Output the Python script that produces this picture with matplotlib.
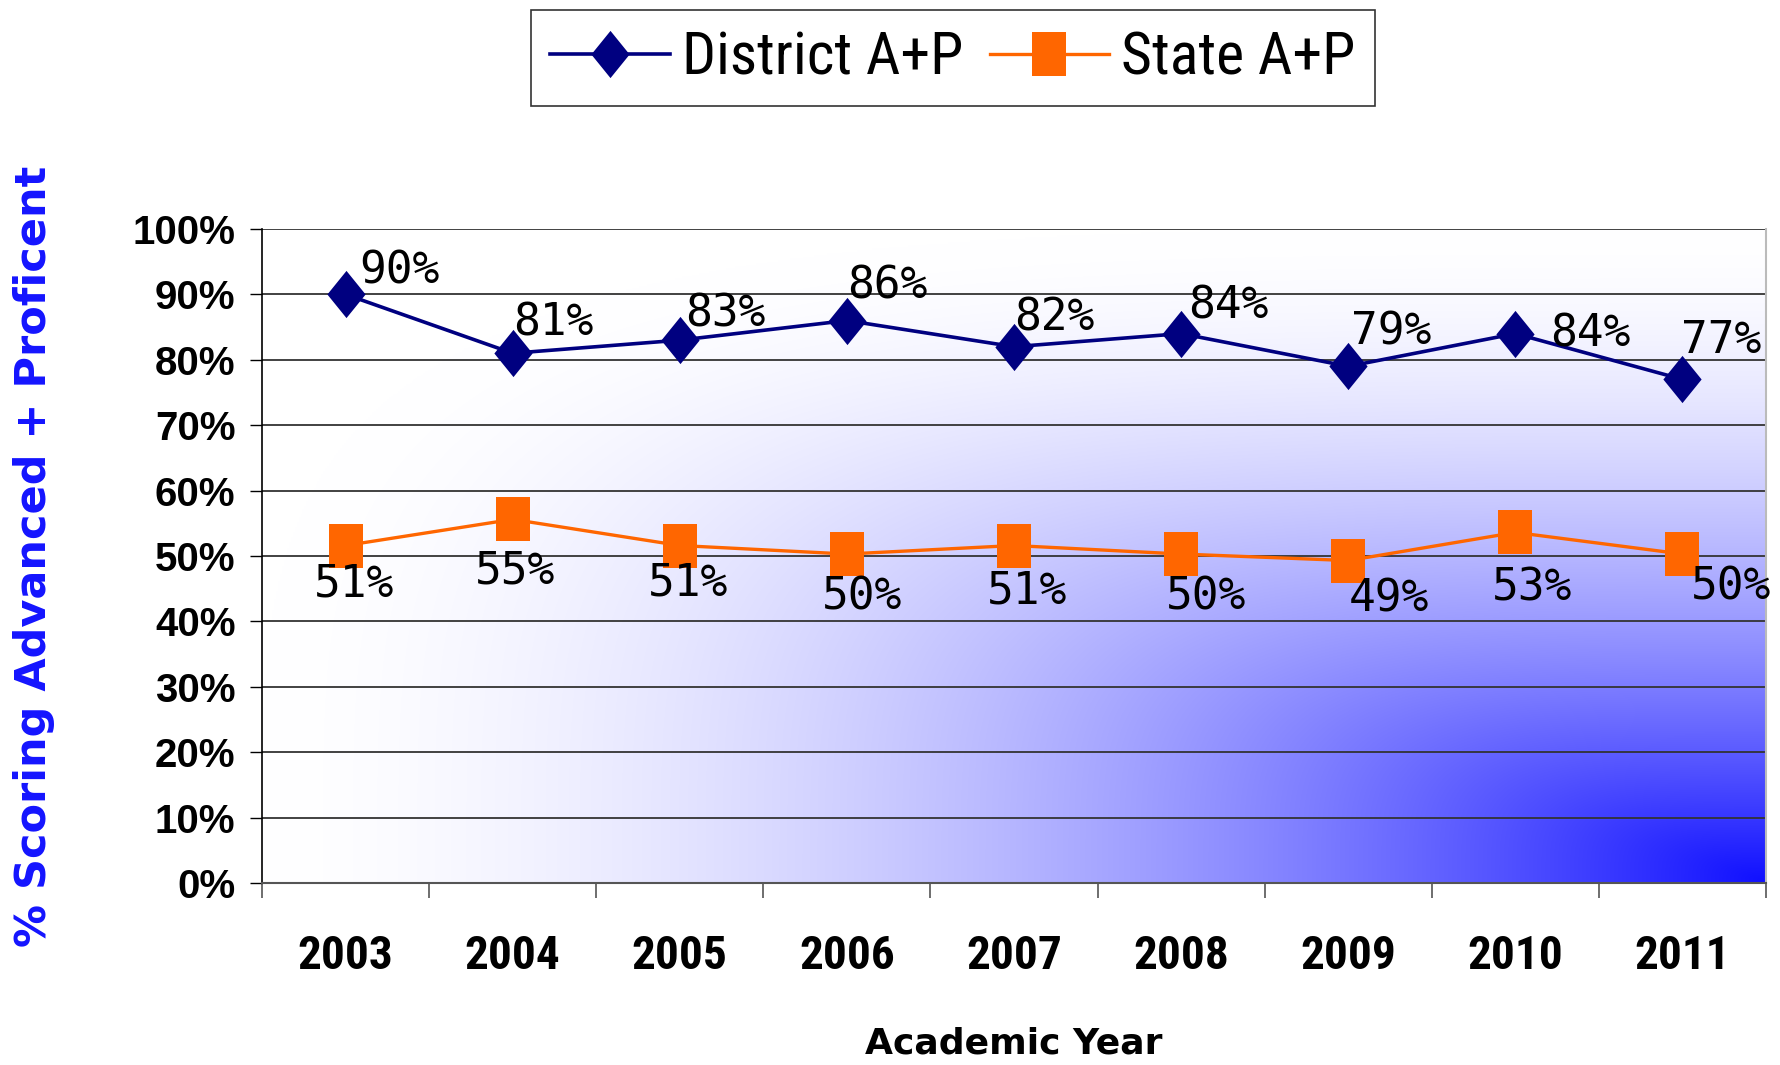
import numpy as np
import matplotlib
matplotlib.use("Agg")
import matplotlib.pyplot as plt
from matplotlib.lines import Line2D

years = ["2003", "2004", "2005", "2006", "2007", "2008", "2009", "2010", "2011"]
district = [90, 81, 83, 86, 82, 84, 79, 84, 77]
state = [51.6, 55.6, 51.6, 50.3, 51.6, 50.3, 49.3, 53.6, 50.3]
yticks = [0, 10, 20, 30, 40, 50, 60, 70, 80, 90, 100]

# label offsets in points (dx, dy)
dist_off = [(39, 17), (29, 22), (33, 19), (29, 25), (29, 21), (34, 20), (31, 25), (54, 0), (28, 28)]
state_off = [(6, -28), (2, -37), (6, -27), (11, -31), (9, -33), (18, -31), (29, -28), (12, -40), (35, -24)]

NAVY = "#000080"
ORANGE = "#FF6600"
COND = ["Roboto Condensed", "Liberation Sans Narrow", "DejaVu Sans"]

diamond = [(0, 0.5), (0.405, 0), (0, -0.5), (-0.405, 0), (0, 0.5)]
rect = [(-0.405, -0.5), (0.405, -0.5), (0.405, 0.5), (-0.405, 0.5), (-0.405, -0.5)]

fig = plt.figure(figsize=(17.81, 10.65), dpi=100)
ax = fig.add_axes([0.1471, 0.1709, 0.8445, 0.6141])

x = np.arange(len(years))

# background gradient from the bottom-right corner (rounded-rectangle contours)
H, W = 400, 800
du = 1 - np.linspace(0, 1, W)[None, :]
dv = 1 - np.linspace(0, 1, H)[:, None]
d = (du ** 4 + dv ** 4) ** 0.25
t = np.clip(1 - d, 0, 1) ** 1.7
end = np.array([0.06, 0.06, 1.0])
img = (1 - t)[..., None] * np.ones(3) + t[..., None] * end
ax.imshow(img, extent=(-0.5, len(years) - 0.5, 0, 100), aspect="auto",
          zorder=0, interpolation="bilinear")

ax.plot(x, district, color=NAVY, lw=2.6, marker=diamond, markersize=34,
        markeredgewidth=0, zorder=4)
ax.plot(x, state, color=ORANGE, lw=2.4, marker=rect, markersize=31,
        markeredgewidth=0, zorder=3)

lab_font = ["DejaVu Sans Mono"]
for i, val in enumerate(district):
    ax.annotate(f"{int(val)}%", (i, val), xytext=dist_off[i], textcoords="offset points",
                ha="center", va="center", fontsize=32, family=lab_font, zorder=6)
for i, val in enumerate(state):
    ax.annotate(f"{int(val)}%", (i, val), xytext=state_off[i], textcoords="offset points",
                ha="center", va="center", fontsize=32, family=lab_font, zorder=6)

ax.set_xlim(-0.5, len(years) - 0.5)
ax.set_ylim(0, 100)
ax.set_yticks(yticks)
ax.set_yticklabels([f"{v}%" for v in yticks])
ax.set_xticks(x)
ax.set_xticklabels(years)
ax.set_xticks(np.arange(len(years) + 1) - 0.5, minor=True)

for lab in ax.get_yticklabels():
    lab.set_fontfamily(["Liberation Sans", "DejaVu Sans"])
    lab.set_fontweight("bold")
    lab.set_fontsize(29)
for lab in ax.get_xticklabels():
    lab.set_fontfamily(COND)
    lab.set_fontstretch("condensed")
    lab.set_fontweight("bold")
    lab.set_fontsize(34)

ax.tick_params(axis="y", direction="out", length=9, width=1, color="black", pad=10)
ax.tick_params(axis="x", which="major", length=0, pad=37)
ax.tick_params(axis="x", which="minor", direction="out", length=11, width=1.2, color="#555555")

ax.set_axisbelow(True)
ax.yaxis.grid(True, color="#333333", lw=1.3)
ax.spines["top"].set_visible(False)
ax.spines["left"].set_color("black")
ax.spines["left"].set_linewidth(1.2)
ax.spines["bottom"].set_color("#555555")
ax.spines["bottom"].set_linewidth(1.5)
ax.spines["right"].set_color("#bbbbbb")
ax.spines["right"].set_linewidth(1.5)

ax.set_xlabel("Academic Year", fontsize=26, fontweight="bold", family=["DejaVu Sans"])
ax.xaxis.set_label_coords(0.5, -0.246)
ax.xaxis.label.set_va("center")
ax.set_ylabel("% Scoring Advanced + Proficent", fontsize=31, fontweight="bold",
              color="#1414ff", family=["DejaVu Sans"])
ax.yaxis.set_label_coords(-0.1516, 0.5)
ax.yaxis.label.set_va("center")

handles = [
    Line2D([], [], color=NAVY, lw=2.6, marker=diamond, markersize=34, markeredgewidth=0),
    Line2D([], [], color=ORANGE, lw=2.4, marker=rect, markersize=31, markeredgewidth=0),
]
leg = fig.legend(handles, ["District A+P", "State A+P"], loc="center",
                 bbox_to_anchor=(0.535, 0.9455), ncol=2, frameon=True, fancybox=False,
                 prop={"family": COND, "stretch": "condensed", "size": 43}, handlelength=2.0,
                 columnspacing=0.45, handletextpad=0.2, borderpad=0.32, borderaxespad=0)
leg.get_frame().set_edgecolor("black")
leg.get_frame().set_linewidth(1.2)

fig.savefig("out.png", dpi=100)
